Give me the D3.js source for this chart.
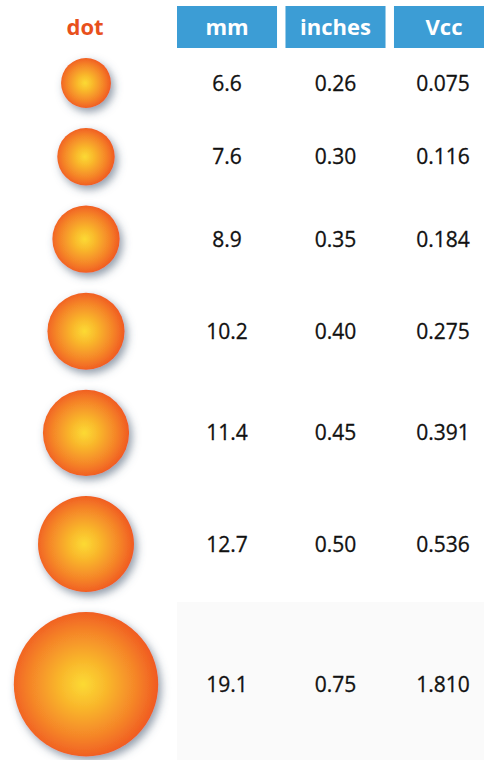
<!DOCTYPE html>
<html>
<head>
<meta charset="utf-8">
<script src="https://cdn.jsdelivr.net/npm/d3@7/dist/d3.min.js"></script>
<style>
  html, body { margin: 0; padding: 0; background: #ffffff; }
  svg { display: block; }
</style>
</head>
<body>
<svg id="chart" width="484" height="760"></svg>
<script>
// ---- data ----
const columns = ["mm", "inches", "Vcc"];
const mmValues = ["6.6", "7.6", "8.9", "10.2", "11.4", "12.7", "19.1"];
const inchValues = ["0.26", "0.30", "0.35", "0.40", "0.45", "0.50", "0.75"];
const vccValues = ["0.075", "0.116", "0.184", "0.275", "0.391", "0.536", "1.810"];
const dotHeader = "dot";

const W = 484, H = 760;
const svg = d3.select("#chart");

const rows = mmValues.map((m, i) => ({
  mm: m, inches: inchValues[i], Vcc: vccValues[i], size: +m
}));

// radius scale: dot diameter proportional to mm
const rScale = d3.scaleLinear().domain([0, 19.1]).range([0, 72.2]);

// vertical layout: stack dots with fixed gap
const gap = 20;
let yCur = 83;
rows.forEach((d, i) => {
  d.r = rScale(d.size);
  if (i > 0) yCur += rows[i - 1].r + gap + d.r;
  d.y = yCur;
});

// column scale
const xCol = d3.scaleBand().domain(columns).range([177, 494]).paddingInner(0.078).paddingOuter(0);

const defs = svg.append("defs");
const grad = defs.append("radialGradient").attr("id", "dotGrad")
  .attr("cx", "48%").attr("cy", "50%").attr("r", "52%");
[[0, "#fcda33"], [0.3, "#f9b92c"], [0.7, "#f58628"], [1, "#f05a22"]].forEach(([o, c]) =>
  grad.append("stop").attr("offset", o).attr("stop-color", c));

const filt = defs.append("filter").attr("id", "shadow")
  .attr("x", "-30%").attr("y", "-30%").attr("width", "170%").attr("height", "170%");
filt.append("feDropShadow").attr("dx", 3).attr("dy", 4).attr("stdDeviation", 4)
  .attr("flood-color", "#4a5a72").attr("flood-opacity", 0.6);

// light band behind the last row
const last = rows[rows.length - 1];
const prev = rows[rows.length - 2];
const bandTop = prev.y + prev.r + (last.y - last.r - prev.y - prev.r) / 2;
svg.append("rect")
  .attr("x", xCol("mm")).attr("y", bandTop)
  .attr("width", W - xCol("mm")).attr("height", H - bandTop)
  .attr("fill", "#fafafa");

// header
svg.append("text").attr("x", 85).attr("y", 35)
  .attr("text-anchor", "middle")
  .attr("font-family", "'Open Sans', sans-serif").attr("font-weight", 700)
  .attr("font-size", 22).attr("fill", "#e8501c").text(dotHeader);

const head = svg.append("g").selectAll("g").data(columns).join("g");
head.append("rect")
  .attr("x", d => xCol(d)).attr("y", 6)
  .attr("width", xCol.bandwidth()).attr("height", 42)
  .attr("fill", "#3c9dd5");
head.append("text")
  .attr("x", d => xCol(d) + xCol.bandwidth() / 2)
  .attr("y", 35)
  .attr("text-anchor", "middle")
  .attr("font-family", "'Open Sans', sans-serif").attr("font-weight", 700)
  .attr("font-size", 22).attr("fill", "#ffffff").text(d => d);

// dots
svg.append("g").selectAll("circle").data(rows).join("circle")
  .attr("cx", 86).attr("cy", d => d.y).attr("r", d => d.r)
  .attr("fill", "url(#dotGrad)")
  .attr("filter", "url(#shadow)");

// values
const body = svg.append("g");
columns.forEach(c => {
  body.selectAll(null).data(rows).join("text")
    .attr("x", xCol(c) + xCol.bandwidth() / 2 - (c === "Vcc" ? 1 : 0))
    .attr("y", d => d.y)
    .attr("dy", "0.36em")
    .attr("text-anchor", "middle")
    .attr("font-family", "'Open Sans', sans-serif")
    .attr("font-weight", 500)
    .attr("font-size", 21).attr("fill", "#111111")
    .attr("stroke", "#111111").attr("stroke-width", 0.3)
    .text(d => d[c]);
});
</script>
</body>
</html>
